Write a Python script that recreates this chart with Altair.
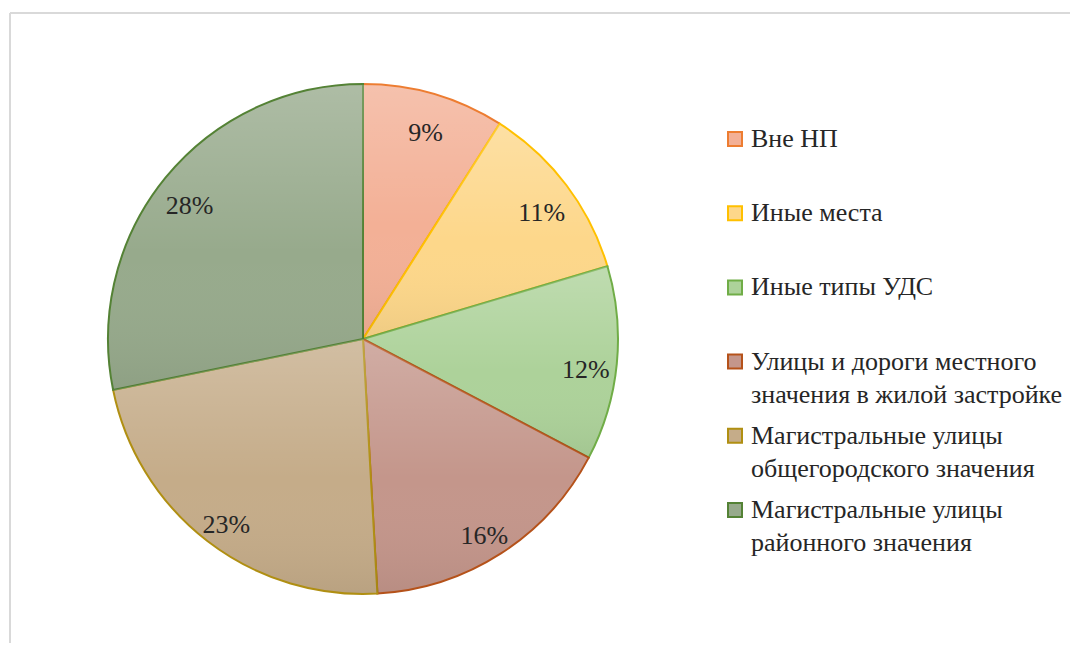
import altair as alt
import pandas as pd

categories = [
    "Вне НП",
    "Иные места",
    "Иные типы УДС",
    "Улицы и дороги местного\nзначения в жилой застройке",
    "Магистральные улицы\nобщегородского значения",
    "Магистральные улицы\nрайонного значения",
]
values = [9.0, 11.4, 12.3, 16.4, 22.7, 28.2]
labels = ["9%", "11%", "12%", "16%", "23%", "28%"]
fill_colors = ["#F3B096", "#FDD78A", "#ADD29A", "#C4968B", "#C5AC89", "#97AA8C"]
stroke_colors = ["#ED7D31", "#FFC000", "#70AD47", "#B5521A", "#B08F12", "#548235"]

df = pd.DataFrame({
    "cat": categories,
    "val": values,
    "lab": labels,
    "idx": list(range(len(categories))),
})

W, H = 1060, 630
CX, CY, R = 353, 326, 255
FONT = "Liberation Serif"

base = alt.Chart(df).encode(
    theta=alt.Theta("val:Q", stack=True),
    order=alt.Order("idx:Q"),
)

arcs = base.mark_arc(radius=R, strokeWidth=2).encode(
    x=alt.value(CX), y=alt.value(CY),
    fill=alt.Fill("cat:N", sort=None,
                  scale=alt.Scale(domain=categories, range=fill_colors),
                  legend=alt.Legend(title=None, orient="none", legendX=712, legendY=113,
                                    symbolType="square", symbolSize=196, symbolStrokeWidth=2,
                                    labelFont=FONT, labelFontSize=26, labelColor="#262626",
                                    labelLimit=400, labelOffset=3, rowPadding=15.2,
                                    labelExpr="length(split(datum.label, '\\n')) > 1 ? split(datum.label, '\\n') : [datum.label, ' ']")),
    stroke=alt.Stroke("cat:N", sort=None,
                      scale=alt.Scale(domain=categories, range=stroke_colors)),
)

shade = base.mark_arc(
    radius=R - 1,
    fill=alt.Gradient(
        gradient="linear", x1=0, y1=0, x2=0, y2=1,
        stops=[alt.GradientStop(color="rgba(255,255,255,0.22)", offset=0),
               alt.GradientStop(color="rgba(255,255,255,0.0)", offset=0.55),
               alt.GradientStop(color="rgba(0,0,0,0.06)", offset=1)],
    ),
    strokeWidth=0,
).encode(x=alt.value(CX), y=alt.value(CY))

text = base.mark_text(radius=224, dy=9, font=FONT, fontSize=26, color="#262626").encode(
    x=alt.value(CX), y=alt.value(CY),
    text="lab:N",
)

border_top = alt.Chart(df).mark_rule(color="#D9D9D9", strokeWidth=2).encode(
    x=alt.value(0), x2=alt.value(W), y=alt.value(0))
border_left = alt.Chart(df).mark_rule(color="#D9D9D9", strokeWidth=2).encode(
    x=alt.value(0), y=alt.value(0), y2=alt.value(H))

chart = alt.layer(border_top, border_left, arcs, shade, text).properties(
    width=W, height=H,
    padding={"left": 1, "top": 4, "right": 0, "bottom": 0},
).configure(
    font=FONT,
    view={"strokeWidth": 0},
    text={"font": FONT},
    legend={"labelFont": FONT},
    style={"guide-label": {"lineHeight": 33, "font": FONT}},
)

chart.save("out.html", embed_options={"renderer": "svg", "actions": False})
